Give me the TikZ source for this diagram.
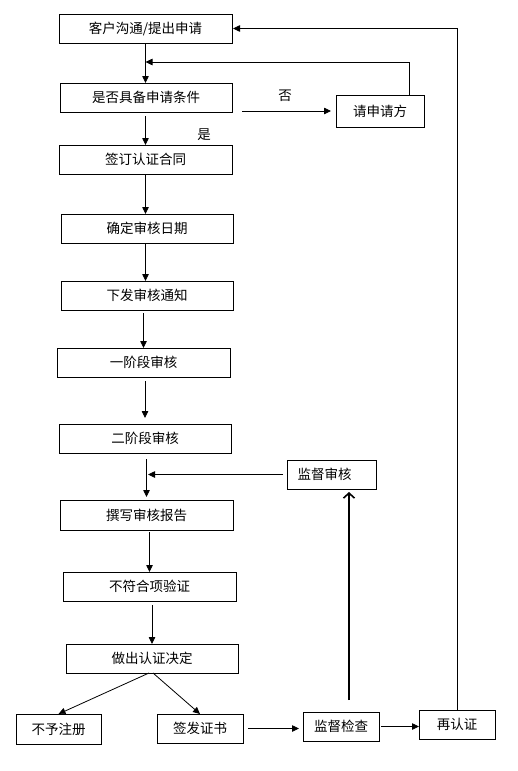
\documentclass[tikz,border=0pt]{standalone}
\usepackage{fontspec}
\setmainfont{Noto Sans CJK SC}
\usetikzlibrary{arrows.meta}
\begin{document}
\begin{tikzpicture}[x=1pt,y=-1pt,
  box/.style={draw,line width=0.8pt,inner sep=0pt,outer sep=0pt,font=\fontsize{13.5pt}{15pt}\selectfont},
  lbl/.style={inner sep=0pt,font=\fontsize{13.5pt}{15pt}\selectfont},
  arr/.style={line width=0.8pt,-{Triangle[length=7pt,width=6.5pt]}},
  bigarr/.style={line width=2pt,-{Straight Barb[length=5pt,width=11pt,line width=1.6pt]}}]
\useasboundingbox (0,0) rectangle (517,771);
\node[box,minimum width=173pt,minimum height=29pt] (b1) at (145.5,28.5) {客户沟通/提出申请};
\node[box,minimum width=172pt,minimum height=29pt] (b2) at (146,97.5) {是否具备申请条件};
\node[box,minimum width=88pt,minimum height=32pt] (b3) at (380,111) {请申请方};
\node[box,minimum width=173pt,minimum height=29pt] (b4) at (145.5,159.5) {签订认证合同};
\node[box,minimum width=172pt,minimum height=29pt] (b5) at (147,228.5) {确定审核日期};
\node[box,minimum width=172pt,minimum height=29pt] (b6) at (147,295.5) {下发审核通知};
\node[box,minimum width=173pt,minimum height=29pt] (b7) at (143.5,362.5) {一阶段审核};
\node[box,minimum width=172pt,minimum height=29pt] (b8) at (145,438.5) {二阶段审核};
\node[box,minimum width=89pt,minimum height=29pt] (b9) at (331.5,474.5) {监督审核\hspace*{14pt}};
\node[box,minimum width=173pt,minimum height=30pt] (b10) at (146.5,515) {撰写审核报告};
\node[box,minimum width=173pt,minimum height=29pt] (b11) at (149.5,586.5) {不符合项验证};
\node[box,minimum width=172pt,minimum height=29pt] (b12) at (152,658.5) {做出认证决定};
\node[box,minimum width=85pt,minimum height=30pt] (b13) at (58.5,729) {不予注册};
\node[box,minimum width=86pt,minimum height=29pt] (b14) at (200,728.5) {签发证书};
\node[box,minimum width=76pt,minimum height=29pt] (b15) at (341,726.5) {监督检查};
\node[box,minimum width=76pt,minimum height=29pt] (b16) at (457,724.5) {再认证};
\node[lbl] (no) at (285,96) {否};
\node[lbl] (yes) at (204,135) {是};
\coordinate (fb) at (409,62);
\coordinate (up) at (349,700);
% connectors
\draw[arr] (b1.south) -- (b1.south |- b2.north);
\draw[arr] (b3.north -| fb) -- (fb) -- (fb -| b1.south);
\draw[arr,shorten <=10pt,shorten >=5pt] (b2.east |- b3.west) -- (b3.west);
\draw[arr,shorten <=4pt] (b2.south -| b1.south) -- (b4.north);
\draw[arr] (b4.south) -- (b4.south |- b5.north);
\draw[arr] (b5.south -| b4.south) -- (b4.south |- b6.north);
\draw[arr,shorten <=3pt] (b6.south -| b7.north) -- (b7.north);
\draw[arr,shorten <=4pt,shorten >=6pt] (b7.south -| b8.north) -- (b8.north);
\draw[arr,shorten <=6pt,shorten >=3pt] (b8.south -| b10.north) -- (b10.north);
\draw[arr,shorten <=4pt,shorten >=0pt] (b9.west) -- (b9.west -| 148,0);
\draw[arr,shorten <=2pt] (b10.south -| b11.north) -- (b11.north);
\draw[arr,shorten <=4pt] (b11.south -| b12.north) -- (b12.north);
\draw[arr] ([xshift=-3pt]b12.south) -- (b13.north);
\draw[arr] ([xshift=1pt]b12.south) -- (b14.north);
\draw[arr,shorten <=5pt,shorten >=4pt] (b14.east) -- (b14.east -| b15.west);
\draw[arr,shorten <=2pt] (b15.east) -- (b15.east -| b16.west);
\draw[bigarr,shorten >=3pt] (up) -- (up |- b9.south);
\draw[arr,shorten >=1pt] (b16.north) -- (b16.north |- b1.east) -- (b1.east);
\end{tikzpicture}
\end{document}
